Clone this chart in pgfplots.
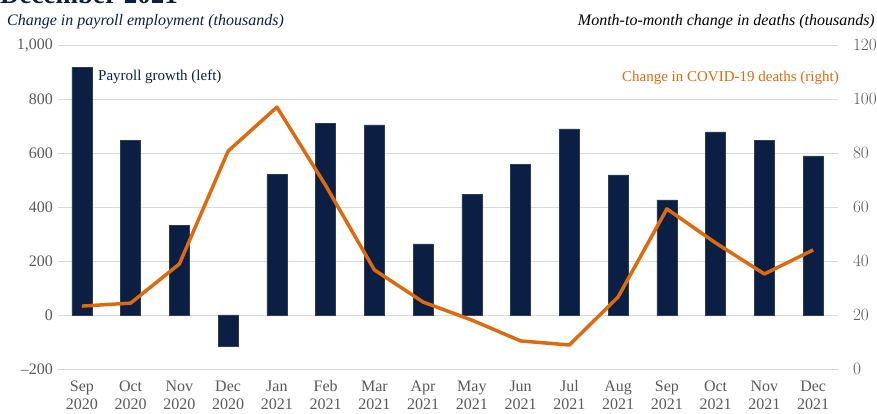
\documentclass[border=0pt]{standalone}
\usepackage{pgfplots}
\pgfplotsset{compat=1.18}
\usepackage{fontspec}
\setmainfont{Liberation Serif}
\definecolor{navy}{HTML}{0B1E43}
\definecolor{covid}{HTML}{DE6A10}
\definecolor{ticktxt}{HTML}{595959}
\definecolor{gridc}{HTML}{D9D9D9}
\pgfplotstableread{
x pay
0 918
1 648
2 333
3 -115
4 522
5 711
6 704
7 263
8 448
9 559
10 689
11 519
12 426
13 678
14 648
15 589
}\paytab
\pgfplotstableread{
x d
0 23.3
1 24.4
2 38.9
3 80.7
4 97.0
5 68.0
6 36.7
7 24.8
8 18.1
9 10.4
10 8.9
11 26.7
12 59.3
13 46.7
14 35.2
15 44.1
}\deathtab
\begin{document}
\begin{tikzpicture}
\clip (0pt,0pt) rectangle (877pt,414pt);
\node[anchor=base west, font=\fontsize{27}{30}\selectfont\bfseries, text=navy, inner sep=0pt] at (0pt,410.5pt) {December 2021};
\node[anchor=base west, font=\fontsize{16}{18}\selectfont\itshape, text=navy, inner sep=0pt] at (7pt,388pt) {Change in payroll employment (thousands)};
\node[anchor=base east, font=\fontsize{16}{18}\selectfont\itshape, text=black, inner sep=0pt] at (875pt,388pt) {Month-to-month change in deaths (thousands)};
\begin{axis}[
  at={(57.5pt,45pt)}, anchor=south west,
  scale only axis, width=780pt, height=324pt,
  xmin=-0.5, xmax=15.5, ymin=-200, ymax=1000,
  axis y line*=left, axis x line=none,
  axis line style={draw=none},
  ytick={-200,0,200,400,600,800,1000},
  yticklabels={\textendash200,0,200,400,600,800,{1,000}},
  major tick length=0pt,
  ymajorgrids, grid style={gridc, line width=0.8pt},
  yticklabel style={text=ticktxt, font=\fontsize{16}{18}\selectfont, xshift=-1pt},
  clip=false,
]
\addplot[ybar, bar width=20pt, fill=navy, draw=navy!70!gray, line width=0.3pt] table[x=x,y=pay] {\paytab};
\node[anchor=west, text=navy, font=\fontsize{15}{17}\selectfont, inner sep=0pt] at (axis cs:0.33,882) {Payroll growth (left)};
\end{axis}
\begin{axis}[
  at={(57.5pt,45pt)}, anchor=south west,
  scale only axis, width=780pt, height=324pt,
  xmin=-0.5, xmax=15.5, ymin=0, ymax=120,
  axis y line*=right, 
  axis line style={draw=none},
  ytick={0,20,40,60,80,100,120},
  major tick length=0pt,
  xtick={0,...,15},
  xticklabels={Sep\\2020,Oct\\2020,Nov\\2020,Dec\\2020,Jan\\2021,Feb\\2021,Mar\\2021,Apr\\2021,May\\2021,Jun\\2021,Jul\\2021,Aug\\2021,Sep\\2021,Oct\\2021,Nov\\2021,Dec\\2021},
  xticklabel style={text=ticktxt, font=\fontsize{16}{18}\selectfont, align=center, yshift=-8pt},
  yticklabel style={text=ticktxt, font=\fontsize{16}{18}\selectfont, xshift=12pt},
  clip=false,
]
\addplot[covid, line width=3.5pt, line join=round] table[x=x,y=d] {\deathtab};
\node[anchor=east, text=covid, font=\fontsize{15}{17}\selectfont, inner sep=0pt] at (axis cs:15.53,107.8) {Change in COVID-19 deaths (right)};
\end{axis}
\end{tikzpicture}
\end{document}
